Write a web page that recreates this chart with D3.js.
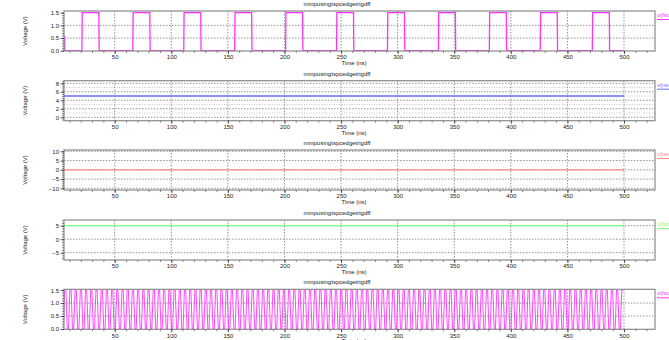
<!DOCTYPE html>
<html>
<head>
<meta charset="utf-8">
<script src="https://cdn.jsdelivr.net/npm/d3@7"></script>
<style>
  body { margin: 0; background: #fff; }
  svg { display: block; font-family: "Liberation Sans", Arial, sans-serif; }
</style>
</head>
<body>
<svg id="chart" width="669" height="340"></svg>
<script>
const plotTitle = 'mmpusingtspcedgetrigdff';
const xTicks = [50, 100, 150, 200, 250, 300, 350, 400, 450, 500];
const tEnd = 500;

// panel 1: output pulses (rise time, ns) and pulse width
const doutRise = [21, 66, 111, 156, 201, 246, 291, 336, 381, 426, 472];
const doutWidth = 15;
const doutStart = 0.55;

// panels 2..4: constant levels
const net1Level = 5;
const net2Level = 0;
const clkLevel = 5;

// panel 5: fast clock, start of each rising edge (ns)
const fastRise = [0, 4.6, 9.2, 13.8, 18.4, 23, 27.6, 32.2, 36.8, 41.4, 46, 50.6, 55.2, 59.8, 64.4, 69, 73.6,
  78.2, 82.8, 87.4, 92, 96.6, 101.2, 105.8, 110.4, 115, 119.6, 124.2, 128.8, 133.4, 138, 142.6, 147.2, 151.8,
  156.4, 161, 165.6, 170.2, 174.8, 179.4, 184, 188.6, 193.2, 197.8, 202.4, 207, 211.6, 216.2, 220.8, 225.4,
  230, 234.6, 239.2, 243.8, 248.4, 253, 257.6, 262.2, 266.8, 271.4, 276, 280.6, 285.2, 289.8, 294.4, 299,
  303.6, 308.2, 312.8, 317.4, 322, 326.6, 331.2, 335.8, 340.4, 345, 349.6, 354.2, 358.8, 363.4, 368, 372.6,
  377.2, 381.8, 386.4, 391, 395.6, 400.2, 404.8, 409.4, 414, 418.6, 423.2, 427.8, 432.4, 437, 441.6, 446.2,
  450.8, 455.4, 460, 464.6, 469.2, 473.8, 478.4, 483, 487.6, 492.2, 496.8];
const fastHigh = 1.5;

const panels = [
  { top: 11, yDomain: [-0.012, 1.567], yTicks: [0, 0.5, 1.0, 1.5], fmt: d3.format('.1f'), minor: 0.1,
    grid: [0.5, 1.0], minorGrid: [], color: '#ff33ff', legend: 'v(fsdout)' },
  { top: 80.7, yDomain: [-0.8, 8.6], yTicks: [0, 2, 4, 6, 8], fmt: d3.format('d'), minor: 0.5,
    grid: [0, 2, 4, 6, 8], minorGrid: [1, 3, 5, 7], color: '#6e6eff', legend: 'v(net1)' },
  { top: 150, yDomain: [-10.9, 10.7], yTicks: [-10, -5, 0, 5, 10], fmt: d3.format('d'), minor: 1,
    grid: [-10, -5, 0, 5, 10], minorGrid: [], color: '#ff8a8a', legend: 'v(net2)' },
  { top: 220, yDomain: [-7.7, 7.1], yTicks: [-5, 0, 5], fmt: d3.format('d'), minor: 1,
    grid: [-5, 0, 5], minorGrid: [], color: '#7dff7d', legend: 'v(fsclk)' },
  { top: 289.3, yDomain: [-0.01, 1.53], yTicks: [0, 0.5, 1.0, 1.5], fmt: d3.format('.1f'), minor: 0.1,
    grid: [0.5, 1.0], minorGrid: [], color: '#ff33ff', legend: 'v(fsq)' }
];

// build series from the arrays above
function pulseSeries() {
  const pts = [[0, doutStart], [5.8, doutStart], [6, 0]];
  doutRise.forEach(r => {
    pts.push([r, 0], [r + 0.3, 1.5], [r + doutWidth, 1.5], [r + doutWidth + 0.3, 0]);
  });
  pts.push([tEnd, 0]);
  return pts;
}
function flatSeries(v) { return [[0, v], [tEnd, v]]; }
function fastSeries() {
  const pts = [];
  fastRise.forEach(r => {
    pts.push([r, 0], [r + 1.2, fastHigh], [r + 2.3, fastHigh], [r + 3.5, 0]);
  });
  return pts.filter(p => p[0] <= tEnd);
}
const series = [pulseSeries(), flatSeries(net1Level), flatSeries(net2Level), flatSeries(clkLevel), fastSeries()];

const svg = d3.select('#chart');
const left = 64, right = 655, panelH = 40;
const x = d3.scaleLinear().domain([5.2, 527.4]).range([left, right]);

panels.forEach((p, i) => {
  const bottom = p.top + panelH;
  const y = d3.scaleLinear().domain(p.yDomain).range([bottom, p.top]);
  const g = svg.append('g');

  g.append('clipPath').attr('id', 'clip' + i)
    .append('rect').attr('x', left).attr('y', p.top).attr('width', right - left).attr('height', panelH);

  // grid
  g.selectAll('.mgrid').data(p.minorGrid).enter().append('line')
    .attr('x1', left).attr('x2', right)
    .attr('y1', d => y(d)).attr('y2', d => y(d))
    .attr('stroke', '#b8b8b8').attr('stroke-width', 0.8).attr('stroke-dasharray', '1,1.5');
  g.selectAll('.hgrid').data(p.grid).enter().append('line')
    .attr('x1', left).attr('x2', right)
    .attr('y1', d => y(d)).attr('y2', d => y(d))
    .attr('stroke', '#777').attr('stroke-width', 0.8).attr('stroke-dasharray', '1.5,1.5');
  g.selectAll('.vgrid').data(xTicks).enter().append('line')
    .attr('x1', d => x(d)).attr('x2', d => x(d))
    .attr('y1', p.top).attr('y2', bottom)
    .attr('stroke', '#777').attr('stroke-width', 0.8).attr('stroke-dasharray', '1.5,1.5');

  // trace
  const line = d3.line().x(d => x(d[0])).y(d => y(d[1]));
  g.append('path')
    .datum(series[i])
    .attr('clip-path', `url(#clip${i})`)
    .attr('fill', 'none')
    .attr('stroke', p.color)
    .attr('stroke-width', i === 4 ? 0.9 : 1.3)
    .attr('d', line);

  // frame
  g.append('rect')
    .attr('x', left).attr('y', p.top).attr('width', right - left).attr('height', panelH)
    .attr('fill', 'none').attr('stroke', '#8a8a8a').attr('stroke-width', 1.2);

  // y axis
  const yMinor = d3.range(Math.ceil(p.yDomain[0] / p.minor) * p.minor, p.yDomain[1], p.minor);
  g.append('g')
    .attr('transform', `translate(${left},0)`)
    .call(d3.axisLeft(y).tickValues(yMinor).tickSize(2).tickFormat(''))
    .call(a => a.select('.domain').remove())
    .call(a => a.selectAll('line').attr('stroke', '#444').attr('stroke-width', 0.6));
  g.append('g')
    .attr('transform', `translate(${left},0)`)
    .call(d3.axisLeft(y).tickValues(p.yTicks).tickSize(3.5).tickPadding(1.5).tickFormat(p.fmt))
    .call(a => a.select('.domain').remove())
    .call(a => a.selectAll('line').attr('stroke', '#333').attr('stroke-width', 0.8))
    .call(a => a.selectAll('text').attr('font-size', 6).attr('fill', '#222')
      .attr('font-family', '"Liberation Sans", Arial, sans-serif'));

  // x axis
  const xMinor = d3.range(10, 527, 10);
  g.append('g')
    .attr('transform', `translate(0,${bottom})`)
    .call(d3.axisBottom(x).tickValues(xMinor).tickSize(2).tickFormat(''))
    .call(a => a.select('.domain').remove())
    .call(a => a.selectAll('line').attr('stroke', '#444').attr('stroke-width', 0.6));
  g.append('g')
    .attr('transform', `translate(0,${bottom})`)
    .call(d3.axisBottom(x).tickValues(xTicks).tickSize(3).tickPadding(1))
    .call(a => a.select('.domain').remove())
    .call(a => a.selectAll('line').attr('stroke', '#333').attr('stroke-width', 0.8))
    .call(a => a.selectAll('text').attr('font-size', 6).attr('fill', '#222')
      .attr('font-family', '"Liberation Sans", Arial, sans-serif'));

  // labels
  g.append('text')
    .attr('x', 337).attr('y', p.top - 5)
    .attr('text-anchor', 'middle').attr('font-size', 6).attr('fill', '#222')
    .text(plotTitle);
  g.append('text')
    .attr('x', 354).attr('y', bottom + 14)
    .attr('text-anchor', 'middle').attr('font-size', 6).attr('fill', '#222')
    .text('Time (ns)');
  g.append('text')
    .attr('transform', `translate(27,${p.top + panelH / 2}) rotate(-90)`)
    .attr('text-anchor', 'middle').attr('font-size', 6).attr('fill', '#222')
    .text('Voltage (V)');

  // legend
  g.append('text')
    .attr('x', 657).attr('y', p.top + 6)
    .attr('font-size', 6).attr('fill', p.color)
    .text(p.legend);
  g.append('line')
    .attr('x1', 657).attr('x2', 669)
    .attr('y1', p.top + 8.5).attr('y2', p.top + 8.5)
    .attr('stroke', p.color).attr('stroke-width', 1);
});
</script>
</body>
</html>
